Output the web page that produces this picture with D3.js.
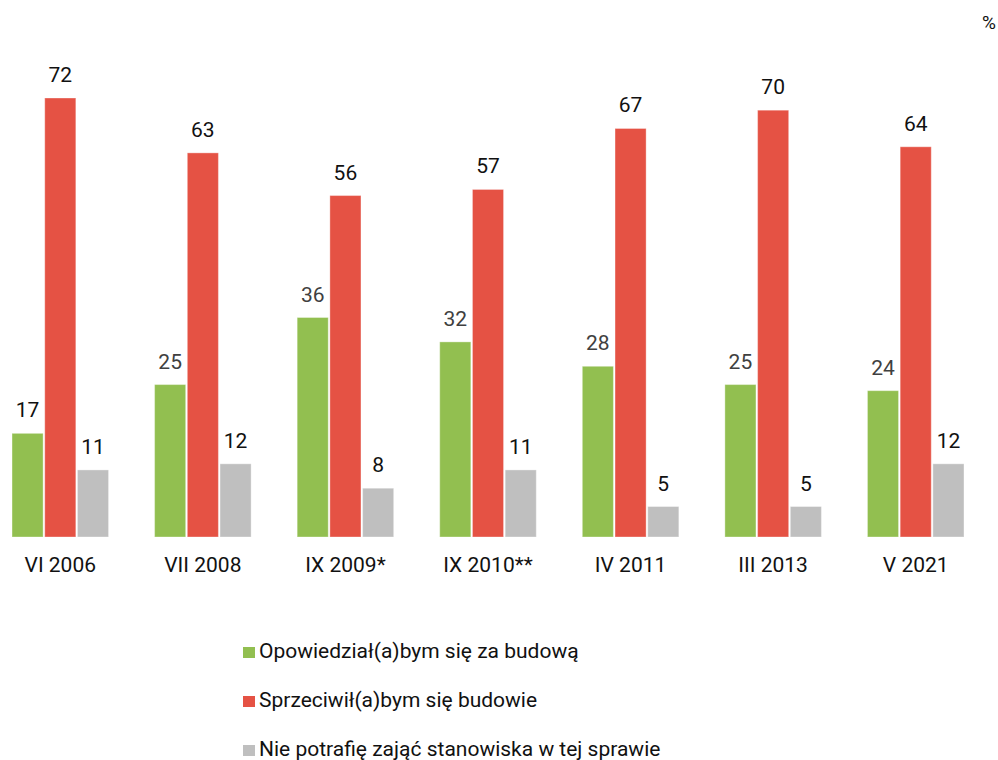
<!DOCTYPE html>
<html>
<head>
<meta charset="utf-8">
<script src="https://cdn.jsdelivr.net/npm/d3@7"></script>
<style>
  body { margin: 0; background: #fff; }
  svg { font-family: Roboto, "Noto Sans", sans-serif; }
</style>
</head>
<body>
<svg id="chart" width="998" height="760"></svg>
<script>
// dane
var categories = ["VI 2006", "VII 2008", "IX 2009*", "IX 2010**", "IV 2011", "III 2013", "V 2021"];
var seriesNames = [
   "Opowiedział(a)bym się za budową",
   "Sprzeciwił(a)bym się budowie",
   "Nie potrafię zająć stanowiska w tej sprawie"
];
var favour = [17, 25, 36, 32, 28, 25, 24];
var against = [72, 63, 56, 57, 67, 70, 64];
var undecided = [11, 12, 8, 11, 5, 5, 12];

var colors = ["#92bf50", "#e55244", "#bfbfbf"];
var labelColors = ["#404040", "#111", "#111"];

var width = 998,
   height = 760,
   baseline = 537;

var svg = d3.select("svg#chart");

var rows = categories.map(function (c, i) {
   return { cat: c, values: [favour[i], against[i], undecided[i]] };
});

// skale
var x0 = d3.scaleBand()
   .domain(categories)
   .range([-11, 987])
   .paddingInner(0.323)
   .paddingOuter(0.1615);

var x1 = d3.scaleBand()
   .domain([0, 1, 2])
   .range([0, x0.bandwidth()])
   .paddingInner(0.05);

var y = d3.scaleLinear().domain([0, 72]).range([baseline, 98]);

var groups = svg.selectAll("g.group")
   .data(rows)
   .enter()
   .append("g")
   .attr("class", "group")
   .attr("transform", function (d) { return "translate(" + x0(d.cat) + ",0)"; });

groups.selectAll("rect")
   .data(function (d) { return d.values.map(function (v, k) { return { k: k, v: v }; }); })
   .enter()
   .append("rect")
   .attr("x", function (d) { return x1(d.k); })
   .attr("y", function (d) { return y(d.v); })
   .attr("width", x1.bandwidth())
   .attr("height", function (d) { return baseline - y(d.v); })
   .attr("fill", function (d) { return colors[d.k]; })
   .attr("stroke", "#fff")
   .attr("stroke-opacity", 0.35)
   .attr("stroke-width", 1);

// etykiety wartości
groups.selectAll("text.val")
   .data(function (d, i) { return d.values.map(function (v, k) { return { k: k, v: v, g: i }; }); })
   .enter()
   .append("text")
   .attr("class", "val")
   .attr("x", function (d) { return x1(d.k) + x1.bandwidth() / 2; })
   .attr("y", function (d) { return y(d.v) - 16; })
   .attr("text-anchor", "middle")
   .attr("font-size", 21)
   .attr("fill", function (d) { return d.k === 0 && d.g === 0 ? "#111" : labelColors[d.k]; })
   .text(function (d) { return d.v; });

// oś X
svg.selectAll("text.cat")
   .data(categories)
   .enter()
   .append("text")
   .attr("class", "cat")
   .attr("x", function (d) { return x0(d) + x0.bandwidth() / 2; })
   .attr("y", 572)
   .attr("text-anchor", "middle")
   .attr("font-size", 21)
   .attr("fill", "#111")
   .text(function (d) { return d; });

// %
svg.append("text")
   .attr("x", 996)
   .attr("y", 29)
   .attr("text-anchor", "end")
   .attr("font-size", 19)
   .attr("fill", "#111")
   .text("%");

// legenda
var legend = svg.selectAll("g.legend")
   .data(seriesNames)
   .enter()
   .append("g")
   .attr("class", "legend")
   .attr("transform", function (d, i) { return "translate(243," + (658 + i * 49) + ")"; });

legend.append("rect")
   .attr("x", 0)
   .attr("y", -11)
   .attr("width", 12)
   .attr("height", 11)
   .attr("fill", function (d, i) { return colors[i]; });

legend.append("text")
   .attr("x", 16)
   .attr("y", 0)
   .attr("font-size", 21)
   .attr("fill", "#111")
   .text(function (d) { return d; });
</script>
</body>
</html>
